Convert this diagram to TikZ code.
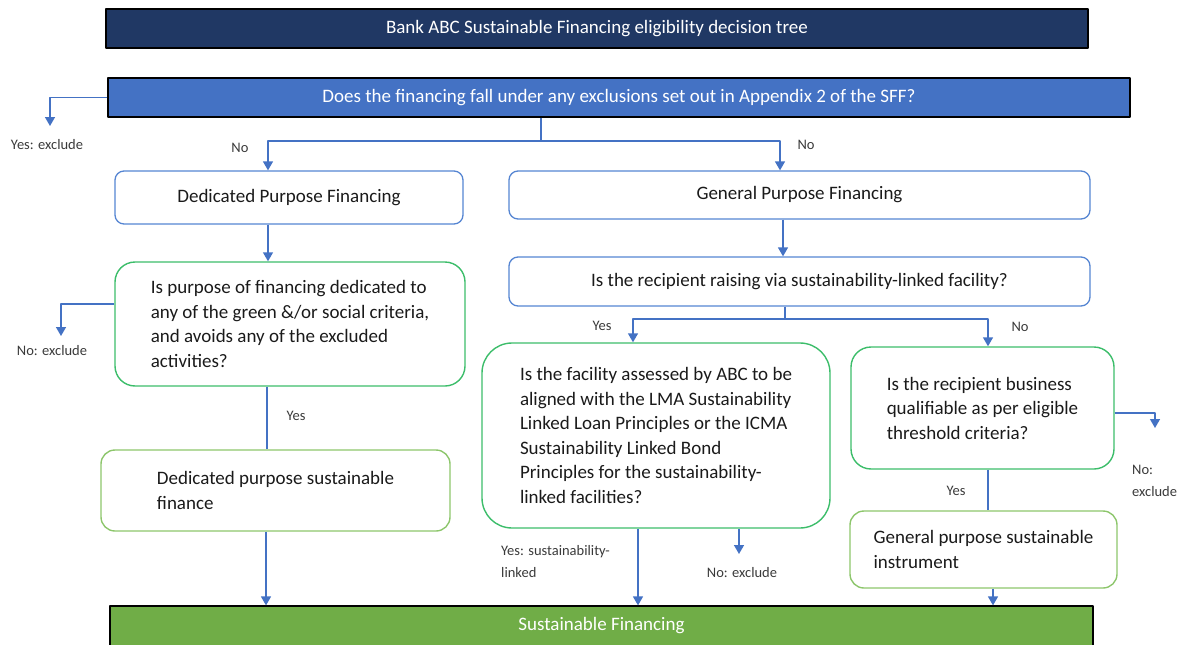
\documentclass[tikz,border=0pt]{standalone}
\usepackage{fontspec}
\setmainfont{Carlito}
\usetikzlibrary{arrows.meta}
\definecolor{navy}{HTML}{203864}
\definecolor{qblue}{HTML}{4472C4}
\definecolor{boxblue}{HTML}{5585D2}
\definecolor{qgreen}{HTML}{3CBD6A}
\definecolor{lgreen}{HTML}{8DC66C}
\definecolor{sfgreen}{HTML}{70AD47}
\definecolor{ink}{HTML}{1A1A1A}
\definecolor{ink2}{HTML}{3A3A3A}
\begin{document}
\begin{tikzpicture}[x=1pt,y=-1pt,>={Triangle[width=10pt,length=9pt]},line join=round,
	font=\fontsize{19}{24.5}\selectfont,
	band/.style={draw=black,line width=1.2pt,text=white,minimum height=39pt},
	box/.style={draw=boxblue,line width=1.3pt,rounded corners=9pt,text=ink},
	ask/.style={draw=qgreen,line width=1.4pt,rounded corners=20pt,text=ink,align=left},
	done/.style={draw=lgreen,line width=1.4pt,rounded corners=14pt,text=ink,align=left},
	lbl/.style={font=\fontsize{14.5}{22}\selectfont,text=ink2,inner sep=0pt},
	link/.style={draw=qblue,line width=1.4pt}]
	\useasboundingbox (0,0) rectangle (1184,645);
	\node[band,fill=navy,minimum width=982pt] (title) at (597,28.5) {Bank ABC Sustainable Financing eligibility decision tree};
	\node[band,fill=qblue,minimum width=1022pt] (excl) at (619,97.5) {Does the financing fall under any exclusions set out in Appendix 2 of the SFF?};
	\node[box,minimum width=348pt,minimum height=53pt] (dpf) at (289,197.5) {Dedicated Purpose Financing};
	\node[box,minimum width=581pt,minimum height=48pt] (gpf) at (799.5,195) {General Purpose Financing};
	\node[ask,minimum width=350pt,minimum height=124pt] (dq) at (290,324)
		{Is purpose of financing dedicated to\\any of the green \&/or social criteria,\\and avoids any of the excluded\\activities?};
	\node[done,minimum width=349pt,minimum height=81pt] (dsf) at (275.5,490.5)
		{Dedicated purpose sustainable\\finance};
	\node[box,minimum width=581pt,minimum height=49pt] (rq) at (799.5,281.5) {Is the recipient raising via sustainability-linked facility?};
	\node[ask,rounded corners=30pt,minimum width=348pt,minimum height=185pt] (fq) at (656,435.5)
		{Is the facility assessed by ABC to be\\aligned with the LMA Sustainability\\Linked Loan Principles or the ICMA\\Sustainability Linked Bond\\Principles for the sustainability-\\linked facilities?};
	\node[ask,minimum width=263pt,minimum height=122pt] (bq) at (982.5,408)
		{Is the recipient business\\qualifiable as per eligible\\threshold criteria?};
	\node[done,minimum width=267pt,minimum height=77pt] (gsi) at (983.5,549.5)
		{General purpose sustainable\\instrument};
	\node[band,fill=sfgreen,minimum width=983pt,minimum height=40pt] (sf) at (601.5,626) {Sustainable Financing};

	\coordinate (sp1) at (541,141);
	\coordinate (sp2) at (785,319);
	\coordinate (yx1) at (50,126);
	\coordinate (nx1) at (61,336);
	\coordinate (nx2) at (1155,428);
	\coordinate (nx3) at (739,554);

	\draw[link,->] (excl.west) -| (yx1);
	\draw[link] (excl.south -| sp1) -- (sp1);
	\draw[link,->] (sp1) -| ([xshift=-21pt]dpf.north);
	\draw[link,->] (sp1) -| ([xshift=-19.5pt]gpf.north);
	\draw[link,->] ([xshift=-21pt]dpf.south) -- ([xshift=-21pt]dpf.south |- dq.north);
	\draw[link,->] ([yshift=20pt]dq.west) -| (nx1);
	\draw[link] ([xshift=-23pt]dq.south) -- ([xshift=-23pt]dq.south |- dsf.north);
	\draw[link,->] ([xshift=-9.5pt]dsf.south) -- ([xshift=-9.5pt]dsf.south |- sf.north);
	\draw[link,->] ([xshift=-16.5pt]gpf.south) -- ([xshift=-16.5pt]gpf.south |- rq.north);
	\draw[link] (rq.south -| sp2) -- (sp2);
	\draw[link,->] (sp2) -| ([xshift=-23pt]fq.north);
	\draw[link,->] (sp2) -| ([xshift=5.5pt]bq.north);
	\draw[link,->] ([yshift=-5pt]bq.east) -| (nx2);
	\draw[link] ([xshift=5.5pt]bq.south) -- ([xshift=5.5pt]bq.south |- gsi.north);
	\draw[link,->] ([xshift=9.5pt]gsi.south) -- ([xshift=9.5pt]gsi.south |- sf.north);
	\draw[link,->] ([xshift=-18pt]fq.south) -- ([xshift=-18pt]fq.south |- sf.north);
	\draw[link,->] ([xshift=83pt]fq.south) -- (nx3);

	\node[lbl] (lyx1) at (47,145) {Yes: exclude};
	\node[lbl] (lno1) at (240,148) {No};
	\node[lbl] (lno2) at (806,145) {No};
	\node[lbl] (lnx1) at (52,351) {No: exclude};
	\node[lbl] (lyes1) at (296,416) {Yes};
	\node[lbl] (lyes2) at (602,326) {Yes};
	\node[lbl] (lno3) at (1020,327) {No};
	\node[lbl,anchor=west,align=left] (lnx2) at (1132,481) {No:\\exclude};
	\node[lbl] (lyes3) at (956,491) {Yes};
	\node[lbl,anchor=west,align=left] (lyes4) at (501,562) {Yes: sustainability-\\linked};
	\node[lbl] (lnx3) at (742,573) {No: exclude};
\end{tikzpicture}
\end{document}
